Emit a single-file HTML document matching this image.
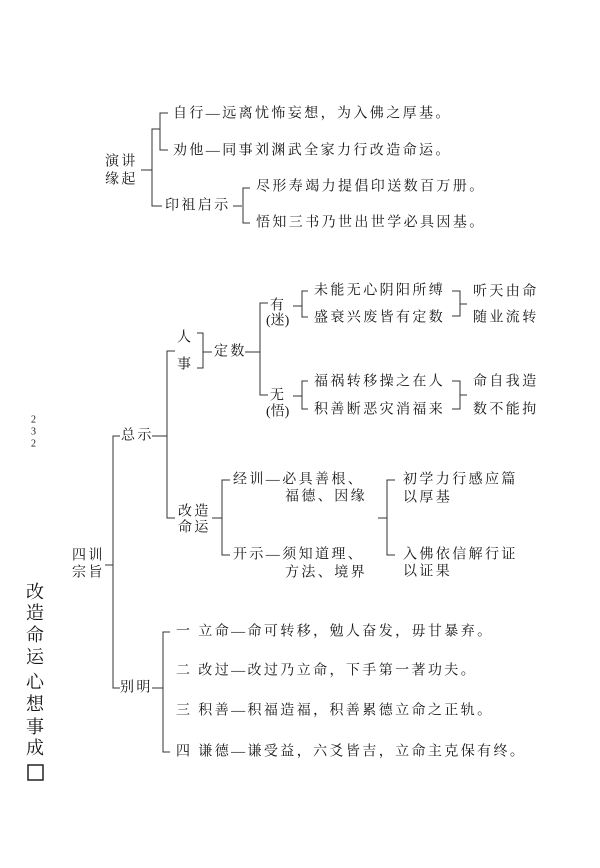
<!DOCTYPE html>
<html><head><meta charset="utf-8"><style>
html,body{margin:0;padding:0;background:#fff;}
svg{display:block;}
text{font-family:"Liberation Serif","Noto Serif CJK SC",serif;font-size:14px;fill:#151515;dominant-baseline:central;}
.s{letter-spacing:2.4px;}
line,path{stroke:#333;stroke-width:1;fill:none;}
</style></head><body>
<svg width="600" height="868" viewBox="0 0 600 868">
<!-- top section -->
<text x="105" y="162" class="s">演讲</text>
<text x="105" y="180" class="s">缘起</text>
<path d="M141 170 H152 M160 129 H152 V206 H162"/>
<path d="M168 113 H160 V150 H168"/>
<text x="173" y="114" class="s">自行—远离忧怖妄想，为入佛之厚基。</text>
<text x="173" y="151" class="s">劝他—同事刘渊武全家力行改造命运。</text>
<text x="165" y="206" class="s">印祖启示</text>
<path d="M233 206 H242 M250 188 H243 V223 H250"/>
<text x="256" y="187" class="s">尽形寿竭力提倡印送数百万册。</text>
<text x="256" y="223" class="s">悟知三书乃世出世学必具因基。</text>

<!-- page number -->
<text x="31" y="420" style="font-size:10px">2</text>
<text x="31" y="432" style="font-size:10px">3</text>
<text x="31" y="444" style="font-size:10px">2</text>

<!-- left title -->
<g style="font-size:18px">
<text x="26" y="592" style="font-size:18px">改</text>
<text x="26" y="613" style="font-size:18px">造</text>
<text x="26" y="635" style="font-size:18px">命</text>
<text x="26" y="657" style="font-size:18px">运</text>
<text x="26" y="682" style="font-size:18px">心</text>
<text x="26" y="704" style="font-size:18px">想</text>
<text x="26" y="727" style="font-size:18px">事</text>
<text x="26" y="748" style="font-size:18px">成</text>
</g>
<rect x="28" y="765" width="15" height="15" style="fill:none;stroke:#222;stroke-width:1.5"/>

<!-- main tree -->
<text x="72" y="556" class="s">四训</text>
<text x="72" y="573" class="s">宗旨</text>
<path d="M105 565 H113 M120 436 H113 V688 H120"/>
<text x="121" y="436" class="s">总示</text>
<path d="M152 436 H167 M175 351 H167 V518 H175"/>
<text x="120" y="688" class="s">别明</text>

<!-- 人事 定数 -->
<text x="177" y="338">人</text>
<text x="177" y="365">事</text>
<path d="M197 333 H203 V368 H197 M203 352 H212"/>
<text x="214" y="352" class="s">定数</text>
<path d="M245 352 H260 M268 303 H260 V395 H268"/>
<text x="270" y="306">有</text>
<text x="266" y="321">(迷)</text>
<text x="270" y="396">无</text>
<text x="266" y="412">(悟)</text>
<path d="M293 306 H302 M308 291 H302 V317 H308"/>
<path d="M293 396 H302 M308 381 H302 V409 H308"/>
<text x="314" y="291" class="s">未能无心阴阳所缚</text>
<text x="314" y="318" class="s">盛衰兴废皆有定数</text>
<text x="314" y="382" class="s">福祸转移操之在人</text>
<text x="314" y="410" class="s">积善断恶灾消福来</text>
<path d="M452 291 H460 V316 H452 M460 304 H467"/>
<path d="M452 381 H460 V409 H452 M460 395 H467"/>
<text x="473" y="292" class="s">听天由命</text>
<text x="473" y="318" class="s">随业流转</text>
<text x="473" y="382" class="s">命自我造</text>
<text x="473" y="410" class="s">数不能拘</text>

<!-- 改造命运 -->
<text x="178" y="512" class="s">改造</text>
<text x="178" y="528" class="s">命运</text>
<path d="M212 518 H222 M230 480 H222 V555 H230"/>
<text x="233" y="480" class="s">经训—必具善根、</text>
<text x="285" y="497" class="s">福德、因缘</text>
<text x="233" y="555" class="s">开示—须知道理、</text>
<text x="285" y="573" class="s">方法、境界</text>
<path d="M378 518 H387 M395 480 H387 V555 H395"/>
<text x="403" y="480" class="s">初学力行感应篇</text>
<text x="403" y="498" class="s">以厚基</text>
<text x="403" y="555" class="s">入佛依信解行证</text>
<text x="403" y="572" class="s">以证果</text>

<!-- 别明 -->
<path d="M152 688 H163 M170 632 H163 V752 H170"/>
<text x="176" y="632" class="s">一 立命—命可转移，勉人奋发，毋甘暴弃。</text>
<text x="176" y="671" class="s">二 改过—改过乃立命，下手第一著功夫。</text>
<text x="176" y="711" class="s">三 积善—积福造福，积善累德立命之正轨。</text>
<text x="176" y="752" class="s">四 谦德—谦受益，六爻皆吉，立命主克保有终。</text>
</svg>
</body></html>
